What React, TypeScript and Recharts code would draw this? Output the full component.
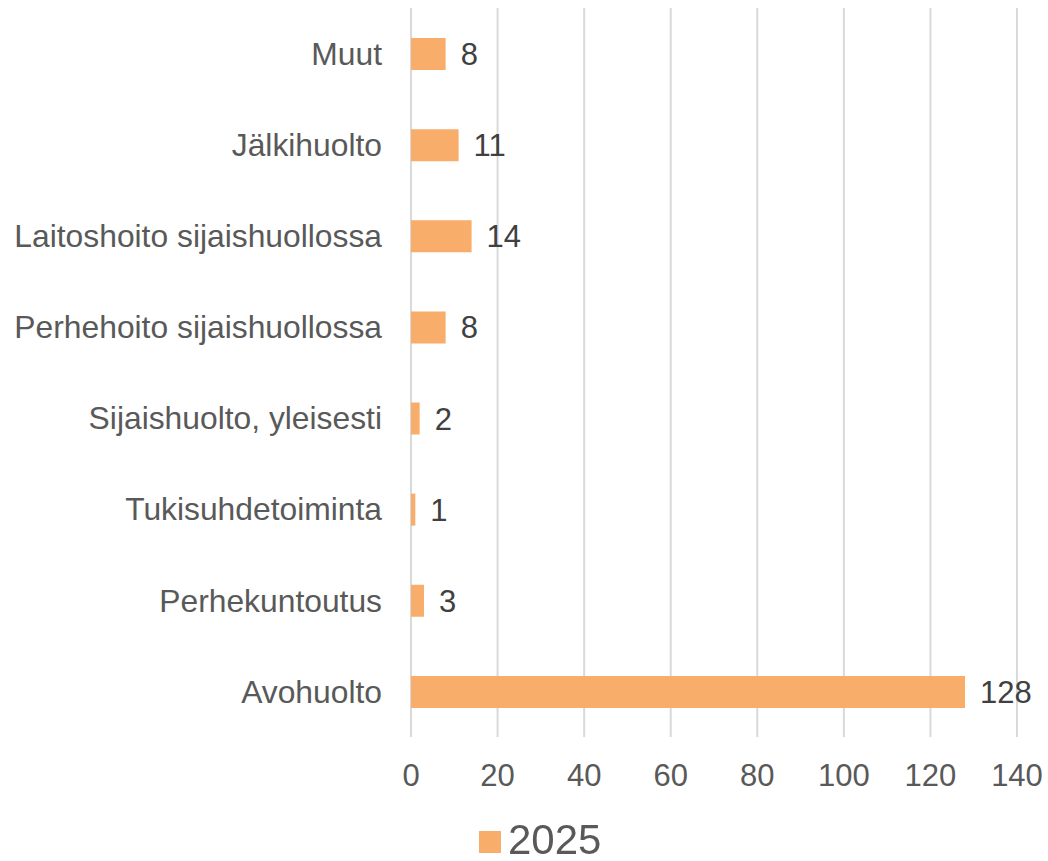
import { BarChart, Bar, XAxis, YAxis, CartesianGrid, LabelList } from "recharts";

const categories = [
  "Muut",
  "Jälkihuolto",
  "Laitoshoito sijaishuollossa",
  "Perhehoito sijaishuollossa",
  "Sijaishuolto, yleisesti",
  "Tukisuhdetoiminta",
  "Perhekuntoutus",
  "Avohuolto",
];
const values2025 = [8, 11, 14, 8, 2, 1, 3, 128];
const xTicks = [0, 20, 40, 60, 80, 100, 120, 140];
const seriesName = "2025";

const data = categories.map((name, i) => ({ name, v2025: values2025[i] }));

const FONT = "'Liberation Sans', Arial, sans-serif";
const BAR_COLOR = "#F8AD6B";

export default function App() {
  return (
    <div style={{ position: "fixed", left: 0, top: 0, width: 1048, height: 861, background: "#fff", fontFamily: FONT }}>
      <BarChart
        width={1048}
        height={861}
        data={data}
        layout="vertical"
        margin={{ top: 8, right: 31, left: 0, bottom: 64 }}
      >
        <CartesianGrid horizontal={false} stroke="#d9d9d9" strokeWidth={2} />
        <XAxis
          type="number"
          domain={[0, 140]}
          ticks={xTicks}
          height={60}
          axisLine={false}
          tickLine={false}
          tickSize={0}
          tickMargin={27}
          tick={{ fontSize: 31, fill: "#595959" }}
        />
        <YAxis
          type="category"
          dataKey="name"
          width={411}
          axisLine={false}
          tickLine={false}
          tickSize={0}
          tickMargin={29}
          interval={0}
          tick={{ fontSize: 31.8, fill: "#595959" }}
        />
        <Bar dataKey="v2025" name={seriesName} fill={BAR_COLOR} barSize={32} isAnimationActive={false}>
          <LabelList dataKey="v2025" position="right" offset={15} style={{ fontSize: 31, fill: "#404040" }} />
        </Bar>
      </BarChart>
      <div style={{ position: "absolute", left: 479, top: 820, display: "flex", alignItems: "center", height: 40 }}>
        <span style={{ width: 22, height: 22, background: BAR_COLOR, display: "inline-block", marginRight: 7, marginTop: 4 }} />
        <span style={{ fontSize: 42, color: "#595959", lineHeight: "40px" }}>{seriesName}</span>
      </div>
    </div>
  );
}
